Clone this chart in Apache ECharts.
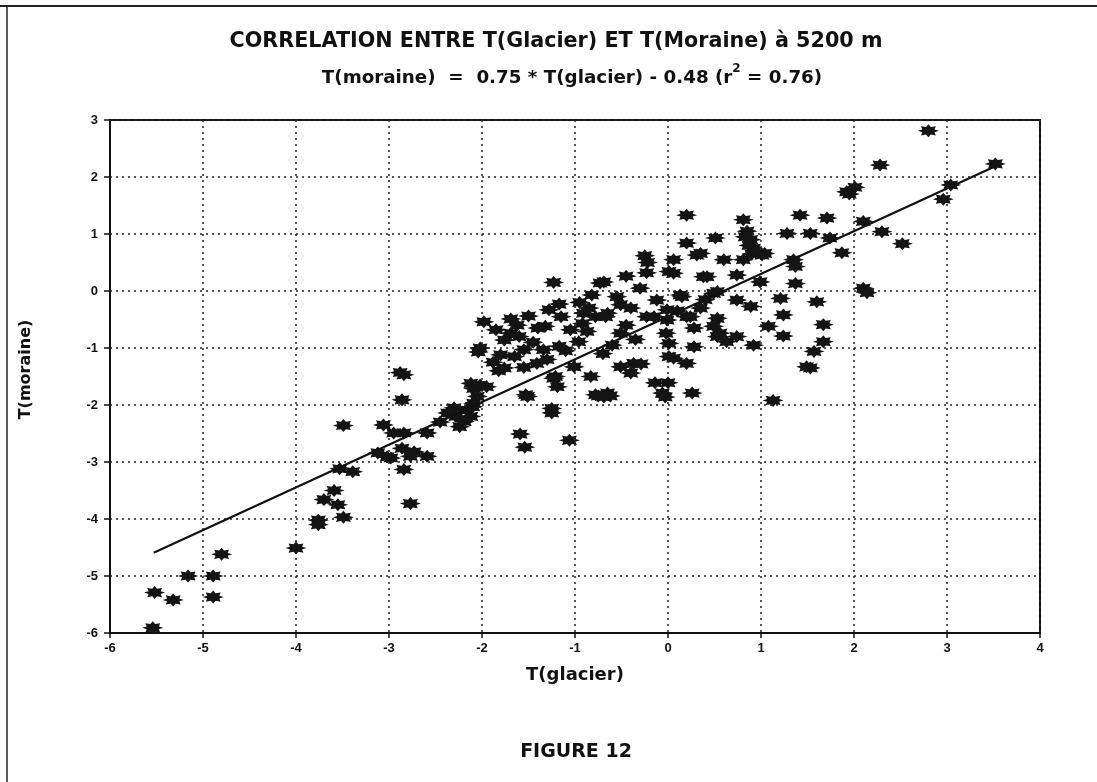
<!DOCTYPE html>
<html>
<head>
<meta charset="utf-8">
<script src="https://cdn.jsdelivr.net/npm/echarts@6/dist/echarts.min.js"></script>
<style>
html,body{margin:0;padding:0;background:#fff;}
#chart{width:1097px;height:782px;}
</style>
</head>
<body>
<div id="chart"></div>
<script>
// T(glacier) values (x) and T(moraine) values (y)
const glacierT = [
-5.54,-5.52,-5.32,-5.16,-4.89,-4.89,-4.80,-4.00,-3.76,-3.76,
-3.70,-3.59,-3.55,-3.49,-3.49,-3.53,-3.39,-3.06,-3.12,-3.02,
-2.86,-2.88,-2.84,-2.95,-2.84,-2.86,-2.84,-2.77,-2.73,-2.98,
-2.77,-2.59,-2.59,-2.37,-2.16,-2.19,-2.09,-2.28,-2.24,-2.12,
-2.09,-2.02,-1.95,-2.02,-1.98,-2.04,-1.85,-1.69,-1.69,-1.76,
-1.80,-1.76,-1.82,-1.55,-1.55,-1.50,-1.41,-1.34,-1.32,-1.28,
-1.23,-1.17,-1.17,-1.21,-1.19,-1.51,-1.25,-1.25,-1.59,-1.54,
-1.06,-1.05,-1.01,-0.96,-0.91,-0.92,-0.87,-0.83,-0.78,-0.82,
-0.73,-0.69,-0.67,-0.65,-0.65,-0.69,-0.51,-0.51,-0.51,-0.45,
-0.40,-0.37,-0.29,-0.25,-0.22,-0.23,-0.23,-0.15,-0.12,-0.14,
-0.06,-0.03,0.00,-0.01,-0.01,-0.02,0.01,0.01,0.01,0.06,
0.06,0.13,0.15,0.20,0.20,0.20,0.20,0.06,0.24,0.26,
0.28,0.28,0.31,0.35,0.38,0.42,0.49,0.49,0.51,0.53,
0.53,0.53,0.56,0.60,0.63,0.74,0.74,0.74,0.81,0.81,
0.83,0.87,0.90,0.89,0.89,0.92,0.99,1.01,1.04,1.08,
1.13,1.21,1.24,1.24,1.28,1.35,1.37,1.37,1.42,1.49,
1.53,1.53,1.57,1.60,1.67,1.67,1.71,1.74,1.87,1.92,
2.01,1.95,2.10,2.30,2.52,2.10,2.14,2.28,2.80,2.96,
3.04,3.52,
-0.85,-0.78,-0.95,-0.60,-0.70,-0.45,-0.35,-0.40,-0.30,-0.55,
-1.60,-1.45,-1.40,-1.62,-1.88,-1.65,-1.30,-1.10,-1.15,
-2.30,-2.05,-2.12,-2.45,
0.85,0.92,0.35,0.10,0.40,
-0.75,-0.62,-1.23,-1.53,-2.34,-2.10
];
const moraineT = [
-5.91,-5.29,-5.42,-5.00,-5.00,-5.37,-4.62,-4.51,-4.02,-4.10,
-3.66,-3.50,-3.75,-3.97,-2.36,-3.12,-3.17,-2.35,-2.84,-2.91,
-1.91,-1.43,-1.47,-2.49,-2.49,-2.76,-3.13,-3.73,-2.82,-2.93,
-2.90,-2.90,-2.49,-2.14,-2.09,-2.29,-1.97,-2.20,-2.38,-1.62,
-1.71,-1.65,-1.68,-1.00,-0.54,-1.07,-0.68,-0.49,-0.74,-0.86,
-1.12,-1.35,-1.40,-1.03,-1.34,-0.44,-1.27,-1.03,-0.62,-0.33,
0.15,-0.23,-0.97,-1.50,-1.68,-1.85,-2.06,-2.14,-2.51,-2.74,
-2.62,-0.68,-1.33,-0.89,-0.39,-0.57,-0.71,-1.50,-1.82,-0.07,
0.14,0.16,-0.45,-0.39,-1.79,-1.86,-0.24,-0.74,-1.33,0.26,
-1.44,-1.27,-1.28,0.62,0.50,0.32,-0.45,-0.45,-0.16,-1.61,
-1.79,-1.86,-1.61,-0.33,-0.51,-0.74,-0.92,-1.15,0.34,0.55,
0.31,-0.07,-0.10,1.33,0.84,-0.45,-1.27,-1.18,-0.45,-1.79,
-0.65,-0.98,0.63,0.66,0.25,0.25,-0.04,-0.62,0.93,-0.01,
-0.48,-0.80,-0.74,0.55,-0.89,0.28,-0.16,-0.80,1.25,0.55,
0.95,0.80,0.65,0.90,-0.27,-0.95,0.16,0.63,0.66,-0.62,
-1.92,-0.13,-0.42,-0.79,1.01,0.55,0.13,0.43,1.33,-1.33,
1.01,-1.35,-1.06,-0.19,-0.59,-0.89,1.28,0.93,0.67,1.74,
1.82,1.70,1.22,1.04,0.83,0.05,-0.03,2.21,2.81,1.61,
1.86,2.23,
-0.30,-0.45,-0.20,-0.95,-1.10,-0.60,-0.85,-0.30,0.05,-0.10,
-0.80,-0.90,-0.65,-0.60,-1.25,-1.15,-1.20,-1.05,-0.45,
-2.05,-1.85,-2.20,-2.30,
1.05,0.75,-0.30,-0.35,-0.15,
-1.84,-1.84,-1.53,-1.82,-2.14,-2.03
];
// regression line endpoints (as drawn)
const lineGlacier = [-5.53, 3.52];
const lineMoraine = [-4.59, 2.19];

const xTicks = [-6,-5,-4,-3,-2,-1,0,1,2,3,4];
const yTicks = [-6,-5,-4,-3,-2,-1,0,1,2,3];

const titleLine1 = 'CORRELATION ENTRE T(Glacier) ET T(Moraine) à 5200 m';
const titleLine2a = 'T(moraine)  =  0.75 * T(glacier) - 0.48 (r';
const titleLine2b = ' = 0.76)';
const figureLabel = 'FIGURE 12';

const points = glacierT.map((x, i) => [x, moraineT[i]]);
const linePts = lineGlacier.map((x, i) => [x, lineMoraine[i]]);

const starPath = 'path://M20,10 L15.8,12.1 L17.07,17.07 L12.3,15.8 L10,20 L7.7,15.8 L2.93,17.07 L4.2,12.1 L0,10 L4.2,7.9 L2.93,2.93 L7.7,4.2 L10,0 L12.3,4.2 L17.07,2.93 L15.8,7.9 Z';

const FONT = '"Liberation Sans", Arial, sans-serif';
const WIDE = '"DejaVu Sans", "Liberation Sans", sans-serif';
const chart = echarts.init(document.getElementById('chart'));
chart.setOption({
  backgroundColor: '#fff',
  animation: false,
  textStyle: { fontFamily: FONT },
  grid: { left: 110, right: 57, top: 120, bottom: 149, show: true, borderColor: '#111', borderWidth: 2, backgroundColor: 'transparent' },
  xAxis: {
    type: 'value', min: -6, max: 4, interval: 1,
    name: 'T(glacier)', nameLocation: 'middle', nameGap: 33,
    nameTextStyle: { fontFamily: WIDE, fontSize: 18, fontWeight: 'bold', color: '#111' },
    axisLine: { show: true, onZero: false, lineStyle: { color: '#111', width: 2 } },
    axisTick: { show: true, length: 5, lineStyle: { color: '#111', width: 1.5 } },
    axisLabel: { fontFamily: FONT, fontSize: 13, fontWeight: 'bold', color: '#111', margin: 9,
      formatter: v => xTicks.includes(v) ? String(v) : '' },
    splitLine: { show: true, lineStyle: { color: '#222', width: 1.5, type: [2, 4] } }
  },
  yAxis: {
    type: 'value', min: -6, max: 3, interval: 1,
    name: 'T(moraine)', nameLocation: 'middle', nameGap: 76, nameRotate: 90,
    nameTextStyle: { fontFamily: WIDE, fontSize: 16, fontWeight: 'bold', color: '#111', padding: [0, 0, 0, 14] },
    axisLine: { show: true, onZero: false, lineStyle: { color: '#111', width: 2 } },
    axisTick: { show: true, length: 6, lineStyle: { color: '#111', width: 1.5 } },
    axisLabel: { fontFamily: FONT, fontSize: 13, fontWeight: 'bold', color: '#111', margin: 12,
      formatter: v => yTicks.includes(v) ? String(v) : '' },
    splitLine: { show: true, lineStyle: { color: '#222', width: 1.5, type: [2, 4] } }
  },
  series: [
    { type: 'scatter', data: points, symbol: starPath, symbolSize: [21, 13],
      itemStyle: { color: '#141414', opacity: 1 }, z: 3 },
    { type: 'line', data: linePts, symbol: 'none', lineStyle: { color: '#111', width: 2.2 }, z: 4 }
  ],
  graphic: [
    { type: 'line', shape: { x1: 0, y1: 6, x2: 1097, y2: 6 }, style: { stroke: '#222', lineWidth: 2 } },
    { type: 'line', shape: { x1: 7, y1: 6, x2: 7, y2: 782 }, style: { stroke: '#222', lineWidth: 1.5 } },
    { type: 'text', x: 556, y: 42, style: { text: titleLine1, font: 'bold 20.7px ' + WIDE, fill: '#111', align: 'center', verticalAlign: 'middle' } },
    { type: 'text', x: 572, y: 75, style: {
        text: '{a|' + titleLine2a + '}{s|2}{a|' + titleLine2b + '}',
        align: 'center', verticalAlign: 'middle',
        rich: {
          a: { font: 'bold 18.3px ' + WIDE, fill: '#111', lineHeight: 24, verticalAlign: 'bottom' },
          s: { font: 'bold 12px ' + WIDE, fill: '#111', lineHeight: 24, verticalAlign: 'top' }
        } } },
    { type: 'text', x: 576, y: 752, style: { text: figureLabel, font: 'bold 19px ' + WIDE, fill: '#111', align: 'center', verticalAlign: 'middle' } }
  ]
});
</script>
</body>
</html>
